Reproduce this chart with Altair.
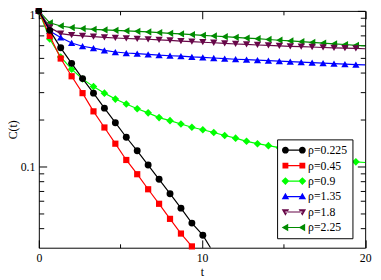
import altair as alt
import pandas as pd

# ---------------- data ----------------
T = [0, 0.67, 1.34, 2.01, 2.68, 3.35, 4.02, 4.69, 5.36, 6.03, 6.70, 7.37, 8.04,
     8.71, 9.38, 10.05, 10.72, 11.39, 12.06, 12.73, 13.40, 14.07, 14.74, 15.41,
     16.08, 16.75, 17.42, 18.09, 18.76, 19.43]

RHO = ["ρ=0.225", "ρ=0.45", "ρ=0.9", "ρ=1.35", "ρ=1.8", "ρ=2.25"]

C_0225 = [1.0, 0.750, 0.579, 0.460, 0.367, 0.296, 0.237, 0.191, 0.154, 0.126,
          0.102, 0.0826, 0.0668, 0.0539, 0.0432, 0.0361]
C_045 = [1.0, 0.691, 0.494, 0.380, 0.296, 0.226, 0.178, 0.140, 0.110, 0.0891,
         0.0713, 0.0575, 0.0460, 0.0370, 0.0306]
C_09 = [1.0, 0.659, 0.506, 0.422, 0.365, 0.326, 0.296, 0.271, 0.252, 0.235,
        0.221, 0.206, 0.197, 0.1875, 0.1786, 0.1721, 0.1653, 0.158, 0.152, 0.145,
        0.140, 0.136, 0.132, 0.128, 0.124, 0.121, 0.117, 0.114, 0.111, 0.107]
C_135 = [1.0, 0.743, 0.675, 0.622, 0.593, 0.576, 0.557, 0.544, 0.536, 0.531,
         0.526, 0.519, 0.515, 0.512, 0.506, 0.502, 0.498, 0.493, 0.489, 0.486,
         0.482, 0.479, 0.475, 0.472, 0.468, 0.465, 0.462, 0.458, 0.455, 0.452]
C_18 = [1.0, 0.783, 0.715, 0.698, 0.691, 0.683, 0.676, 0.670, 0.665, 0.661,
        0.657, 0.651, 0.646, 0.640, 0.634, 0.629, 0.624, 0.618, 0.613, 0.609,
        0.604, 0.600, 0.596, 0.592, 0.589, 0.586, 0.582, 0.579, 0.576, 0.574]
C_225 = [1.0, 0.838, 0.800, 0.781, 0.770, 0.761, 0.755, 0.750, 0.745, 0.739,
         0.733, 0.726, 0.718, 0.711, 0.704, 0.697, 0.690, 0.683, 0.676, 0.669,
         0.663, 0.655, 0.648, 0.641, 0.634, 0.627, 0.621, 0.614, 0.608, 0.601]

# where each curve's line continues past its last marker
TAIL_T = [10.52, None, 20, 20, 20, 20]
TAIL_C = [0.030, None, 0.106, 0.450, 0.571, 0.596]

SERIES = [C_0225, C_045, C_09, C_135, C_18, C_225]
COLORS = ["#000000", "#ff0000", "#00ff00", "#0000ff", "#670748", "#008b00"]
SHAPES = ["circle", "square", "diamond", "triangle-up", "triangle-down", "triangle-left"]
SIZES = [50, 40, 60, 55, 55, 55]

X_TICKS = [0, 5, 10, 15, 20]
Y_TICKS = [0.04, 0.05, 0.06, 0.07, 0.08, 0.09, 0.1, 0.2, 0.3, 0.4, 0.5, 0.6,
           0.7, 0.8, 0.9, 1]

rows = []
for name, vals, tt, tc in zip(RHO, SERIES, TAIL_T, TAIL_C):
    for t, c in zip(T, vals):
        rows.append({"rho": name, "t": t, "C": c, "m": 1})
    if tt is not None:
        rows.append({"rho": name, "t": tt, "C": tc, "m": 0})
df = pd.DataFrame(rows)

# ---------------- styling ----------------
FONT = "Liberation Serif"
W, H = 333.5, 242

# legend symbols: line with a marker at each end (units of sqrt(size)/2)
L, R = -0.125, 4.2


def seg():
    w = 0.15
    return f"M{L},{-w}L{R},{-w}L{R},{w}L{L},{w}Z"


def marker(kind, c):
    if kind == "circle":
        r = 0.875
        return f"M{c + r},0A{r},{r} 0 1,1 {c - r},0A{r},{r} 0 1,1 {c + r},0Z"
    if kind == "square":
        h = 0.75
        return f"M{c - h},{-h}L{c + h},{-h}L{c + h},{h}L{c - h},{h}Z"
    if kind == "diamond":
        d = 1.0
        return f"M{c},{-d}L{c + d},0L{c},{d}L{c - d},0Z"
    t = 0.95
    if kind == "triangle-up":
        return f"M{c},{-t}L{c + t},{t * 0.75}L{c - t},{t * 0.75}Z"
    if kind == "triangle-down":
        return f"M{c},{t}L{c + t},{-t * 0.75}L{c - t},{-t * 0.75}Z"
    return f"M{c - t},0L{c + t * 0.75},{-t}L{c + t * 0.75},{t}Z"


LEG_PATHS = [seg() + marker(s, L) + marker(s, R) for s in SHAPES]

xs = alt.Scale(domain=[0, 20], nice=False, zero=False)
ys = alt.Scale(type="log", domain=[0.03, 1], nice=False)
cs = alt.Scale(domain=RHO, range=COLORS)

x_lab = alt.Axis(values=[0, 10, 20], format="d", ticks=False, tickSize=0,
                 domain=False, grid=False, labelFont=FONT, labelFontSize=12,
                 labelColor="black", labelPadding=5, labelFlush=False,
                 title="t", titleFont=FONT, titleFontSize=12,
                 titleFontWeight="normal", titleColor="black", titlePadding=3)
y_lab = alt.Axis(values=[0.1, 1], format="~g", ticks=False, tickSize=0,
                 domain=False, grid=False, labelFont=FONT, labelFontSize=12,
                 labelColor="black", labelPadding=4, labelFlush=False,
                 labelOffset={"condition": {"test": "datum.value > 0.99", "value": 4},
                              "value": 0},
                 title="C(t)", titleFont=FONT, titleFontSize=12,
                 titleFontWeight="normal", titleColor="black", titleX=-20)

x_cond = {"condition": {"test": "datum.value % 10 === 0", "value": 8}, "value": 4}
y_cond = {"condition": {"test": "datum.value > 0.99 || abs(datum.value - 0.1) < 1e-6",
                        "value": 8}, "value": 5}


def tick_axis(orient, offset, values, cond):
    return alt.Axis(orient=orient, offset=offset, values=values, labels=False,
                    domain=False, grid=False, ticks=True, tickSize=cond,
                    tickColor="black", tickWidth=1, title="")


base = alt.Chart(df)

ticks_a = base.mark_point(opacity=0, size=1).encode(
    x=alt.X("t:Q", scale=xs, axis=tick_axis("top", -H, X_TICKS, x_cond)),
    y=alt.Y("C:Q", scale=ys, axis=tick_axis("right", -W, Y_TICKS, y_cond)),
)
ticks_b = base.mark_point(opacity=0, size=1).encode(
    x=alt.X("t:Q", scale=xs, axis=tick_axis("bottom", -H, X_TICKS, x_cond)),
    y=alt.Y("C:Q", scale=ys, axis=tick_axis("left", -W, Y_TICKS, y_cond)),
)

first = True
line_layers, point_layers = [], []
for name, col, shp, sz in reversed(list(zip(RHO, COLORS, SHAPES, SIZES))):
    sub = base.transform_filter(alt.datum.rho == name)
    line_layers.append(
        sub.mark_line(strokeWidth=1.2, clip=True, color=col).encode(
            x=alt.X("t:Q", scale=xs, axis=x_lab if first else None),
            y=alt.Y("C:Q", scale=ys, axis=y_lab if first else None),
        )
    )
    first = False
    point_layers.append(
        sub.transform_filter(alt.datum.m == 1)
        .mark_point(shape=shp, filled=True, size=sz, opacity=1, color=col)
        .encode(x=alt.X("t:Q", scale=xs, axis=None),
                y=alt.Y("C:Q", scale=ys, axis=None))
    )

layers = []
for ln, pt in zip(line_layers, point_layers):
    layers += [ln, pt]

leg = alt.Legend(title=None, orient="none", legendX=243.5, legendY=131.3,
                 padding=5, strokeColor="black", fillColor="white",
                 symbolSize=64, symbolStrokeWidth=0, symbolOpacity=1,
                 symbolOffset=-2, labelOffset=16.7, labelFont=FONT,
                 labelFontSize=12, labelColor="black", rowPadding=3.8,
                 cornerRadius=0)

legend_layer = base.transform_filter("false").mark_point(filled=True, opacity=1).encode(
    x=alt.X("t:Q", scale=xs, axis=None),
    y=alt.Y("C:Q", scale=ys, axis=None),
    color=alt.Color("rho:N", scale=cs, legend=leg),
    shape=alt.Shape("rho:N", scale=alt.Scale(domain=RHO, range=LEG_PATHS), legend=leg),
)

chart = alt.layer(ticks_a, ticks_b, *layers, legend_layer).resolve_axis(
    x="independent", y="independent"
).properties(
    width=W, height=H,
    autosize=alt.AutoSizeParams(type="none"),
    padding={"left": 31.5, "top": 0, "right": 8, "bottom": 30},
    background="white",
).configure_view(stroke="black", strokeWidth=1)

chart.save("out.html", embed_options={"renderer": "svg", "actions": False})
